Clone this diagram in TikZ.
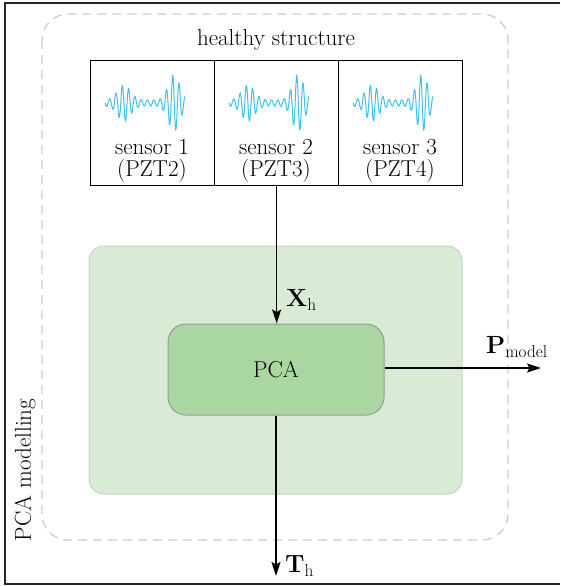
\documentclass[tikz,border=0pt]{standalone}
\usetikzlibrary{arrows.meta}
\definecolor{wavec}{HTML}{3EC0F2}
\definecolor{biggreen}{HTML}{D9EBD5}
\definecolor{pcagreen}{HTML}{A9D6A1}
\definecolor{dashc}{HTML}{CCCCCC}
\begin{document}
\begin{tikzpicture}[x=1pt,y=-1pt,
  txt/.style={font=\fontsize{23}{22}\selectfont, inner sep=0pt},
  sensorbox/.style={draw=black, line width=1.3pt, minimum width=124pt, minimum height=125pt, inner sep=0pt, anchor=north west},
  arr/.style={line width=1.6pt, -{Stealth[length=14pt,width=9pt,inset=2.5pt]}},
  wave/.style={wavec, line width=1pt}
]
\useasboundingbox (0,0) rectangle (560,586);
% outer frame
\draw[line width=2pt, color=black!85] (560,3) -- (5,3) -- (5,584) -- (560,584);
% dashed region
\draw[dashc, line width=1.3pt, dash pattern=on 9pt off 6pt, rounded corners=26pt] (42,14) rectangle (508,540);
\node[txt] (hs) at (276,40) {healthy structure};
\node[txt, rotate=90] (pm) at (25,470) {PCA modelling};
% green area
\node[draw=black!20, fill=biggreen, line width=1pt, rounded corners=15pt, minimum width=373pt, minimum height=248pt, inner sep=0pt] (area) at (275.5,370) {};
% sensors
\foreach \i/\p in {1/2,2/3,3/4}{
  \node[sensorbox] (s\i) at ({90+124*(\i-1)},60) {};
  \node[txt, align=center] (sl\i) at ({152+124*(\i-1)},161) {sensor \i\\(PZT\p)};
  \draw[wave, xshift={124*(\i-1)}] plot[domain=105:185, samples=400, smooth] (\x, {103 + (3 + 15*exp(-((\x-124)/9)^2) + 25*exp(-((\x-174)/8)^2))*sin(2*pi*(\x-105)/6.3 r)});
}
% PCA
\node[draw=black!40, fill=pcagreen, line width=1pt, rounded corners=18pt, minimum width=216pt, minimum height=91pt, inner sep=0pt, txt] (pca) at (276,369.5) {PCA};
\coordinate (pout) at (541,368);
\coordinate (tout) at (276,576);
\draw[arr] (s2.south) -- (s2.south |- pca.north);
\draw[arr] (pca.east |- pout) -- (pout);
\draw[arr] (pca.south) -- (tout);
\node[txt, anchor=west] (xh) at (286,300) {$\mathbf{X}_{\mathrm{h}}$};
\node[txt, anchor=west] (pmod) at (486,347) {$\mathbf{P}_{\mathrm{model}}$};
\node[txt, anchor=west] (th) at (285,566) {$\mathbf{T}_{\mathrm{h}}$};
\end{tikzpicture}
\end{document}
